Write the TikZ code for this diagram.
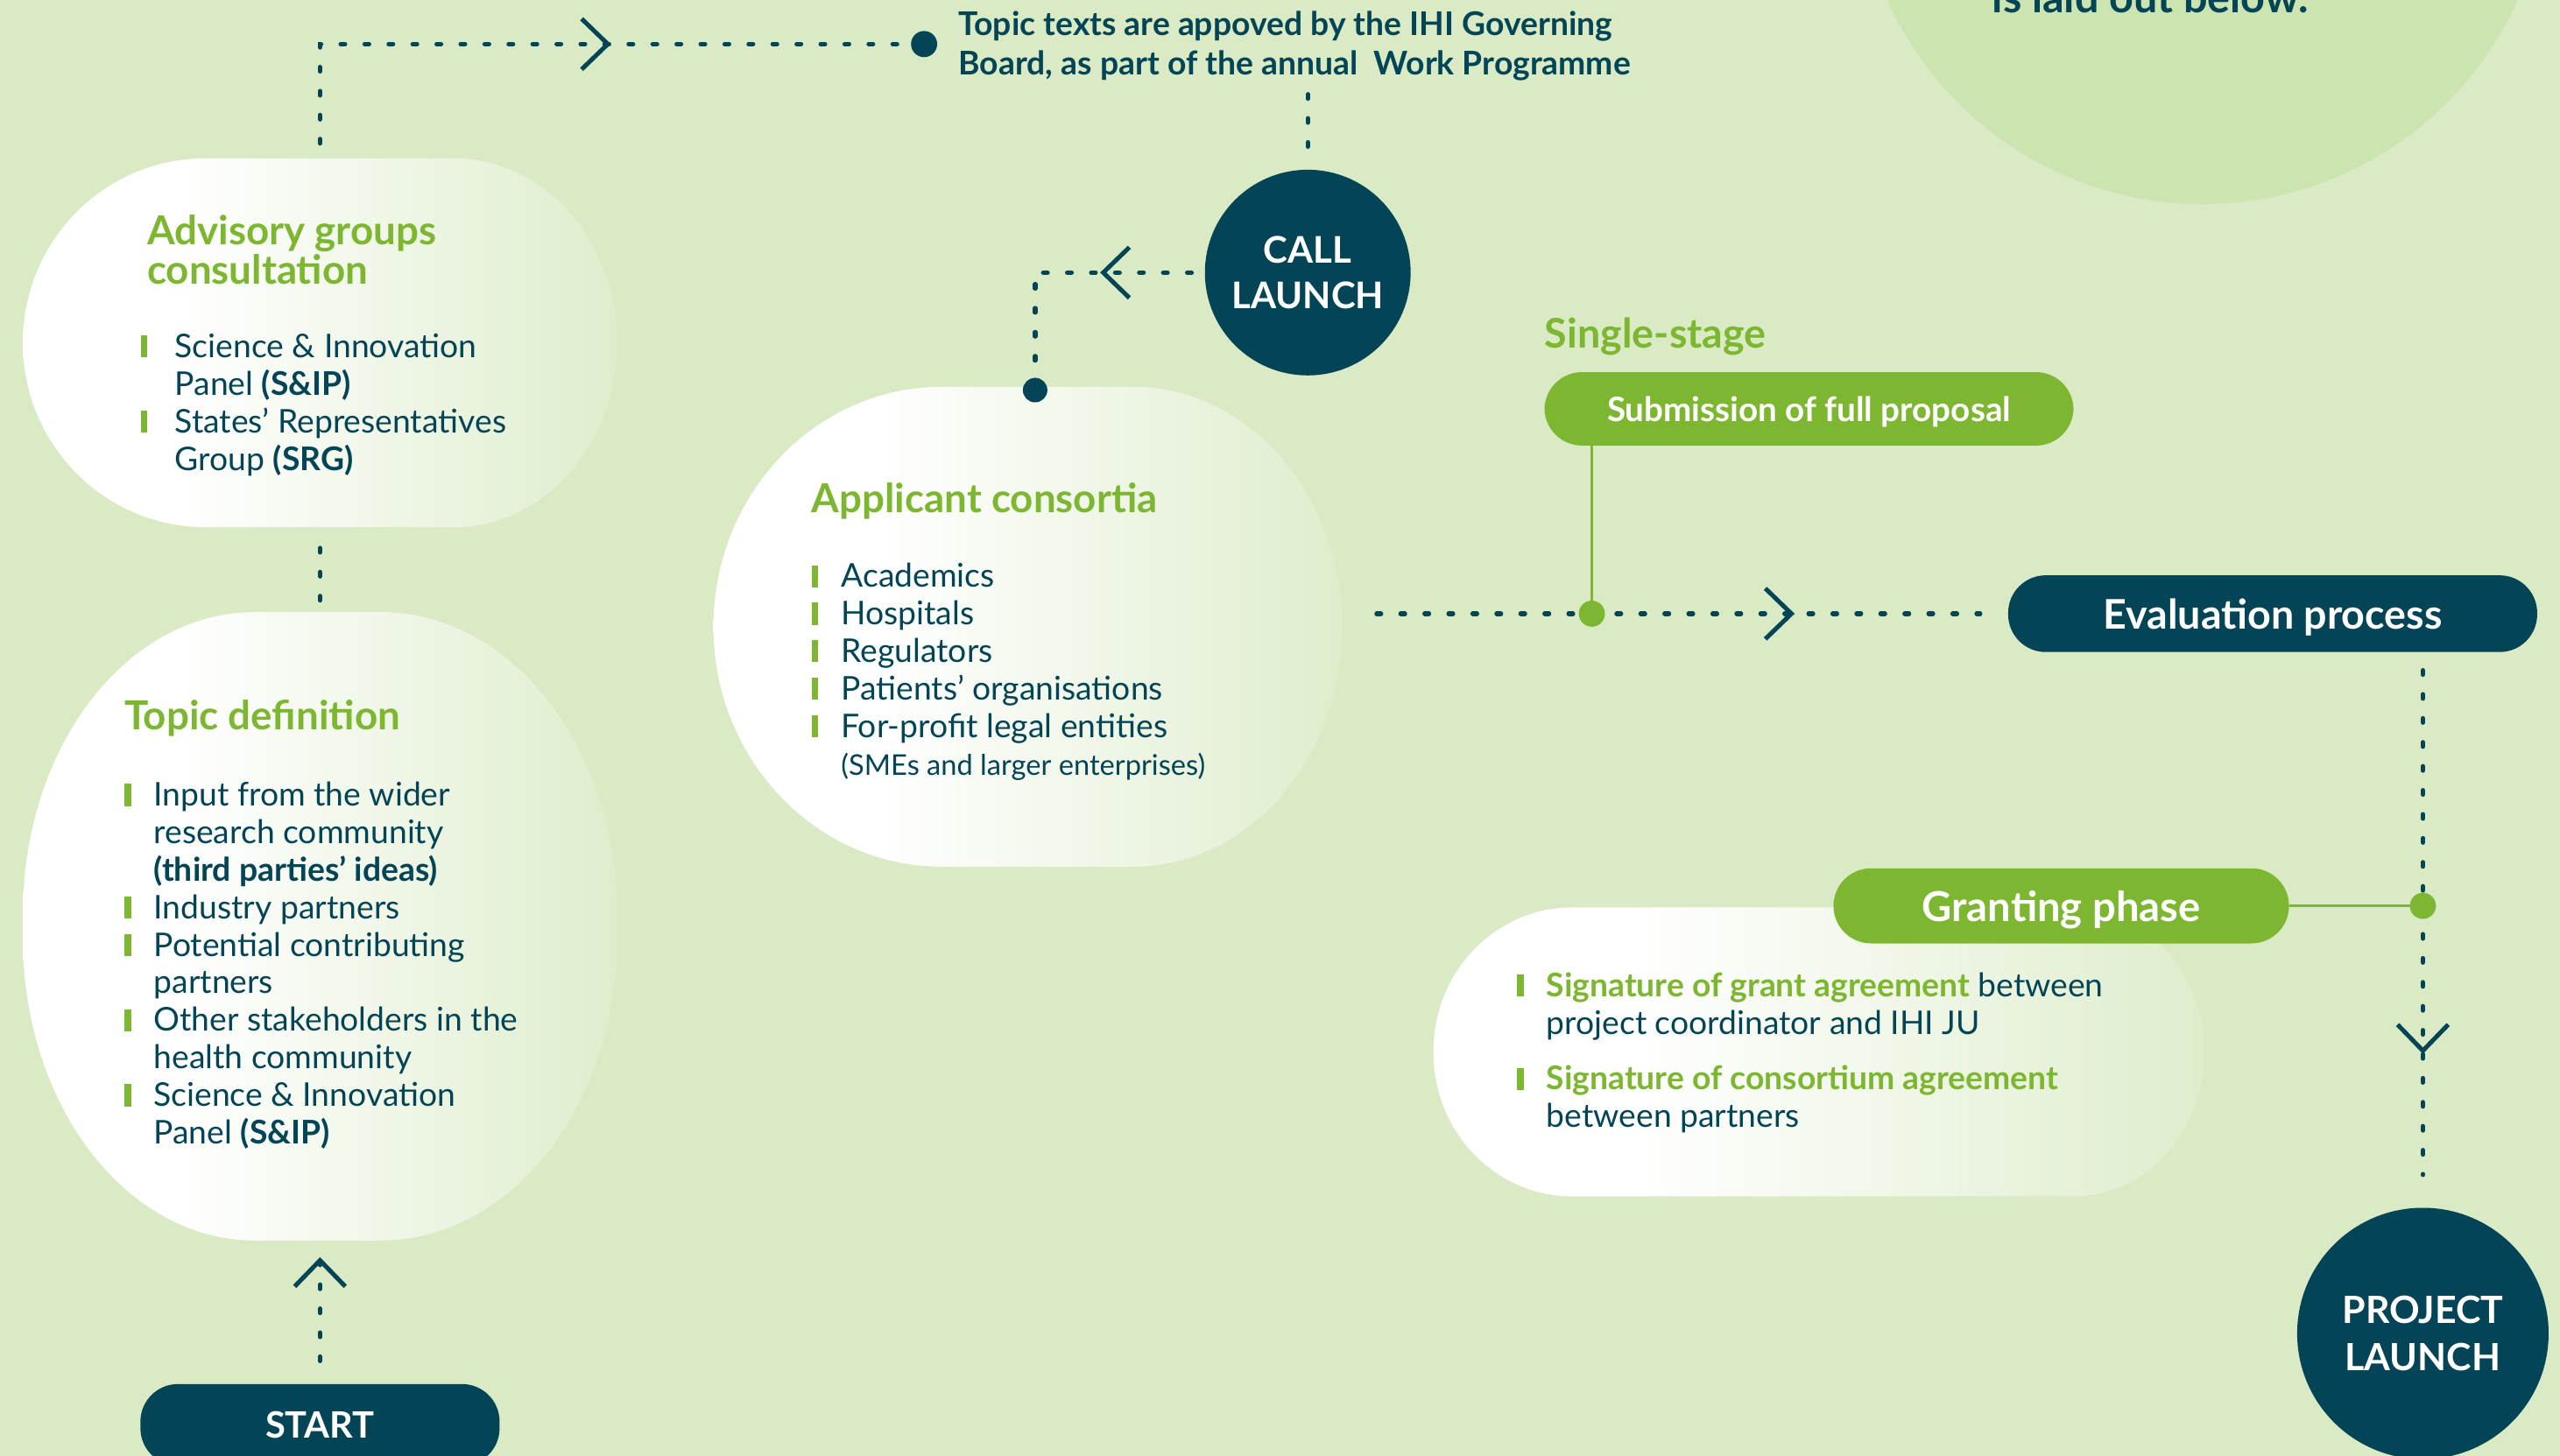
\documentclass[tikz,border=0pt]{standalone}
\usepackage{fontspec}
\setmainfont{Lato}
\usetikzlibrary{arrows.meta, decorations.markings, positioning}

\definecolor{navy}{HTML}{034556}
\definecolor{leaf}{HTML}{7DB731}
\definecolor{bgc}{HTML}{D9EAC4}
\definecolor{pale}{HTML}{CCE4B0}

\pgfdeclarehorizontalshading{blobfade}{100bp}{color(0bp)=(white); color(38bp)=(white); color(75bp)=(bgc!85!white); color(100bp)=(bgc!85!white)}

\newcommand{\itembar}[1][18pt]{\makebox[#1][l]{\textcolor{leaf}{\rule{4pt}{13.5pt}}}}
\newcommand{\itemgap}[1][18pt]{\makebox[#1]{}}

\begin{document}
\begin{tikzpicture}[x=1pt, y=1pt,
    blob/.style n args={3}{rectangle, inner sep=0pt, path picture={
        \shade[shading=blobfade]
          ([xshift=#1]path picture bounding box.north west)
          -- ([xshift=-#2]path picture bounding box.north east)
          arc[start angle=90, end angle=0, x radius=#2, y radius=#3]
          -- ([yshift=#3]path picture bounding box.south east)
          arc[start angle=0, end angle=-90, x radius=#2, y radius=#3]
          -- ([xshift=#1]path picture bounding box.south west)
          arc[start angle=270, end angle=180, x radius=#1, y radius=#3]
          -- ([yshift=-#3]path picture bounding box.north west)
          arc[start angle=180, end angle=90, x radius=#1, y radius=#3] -- cycle;}},
    ttl/.style={anchor=west, inner sep=0pt, align=left, text=leaf,
                font=\bfseries\fontsize{24.5}{22}\selectfont},
    lst/.style={anchor=west, inner sep=0pt, align=left, text=navy,
                font=\fontsize{20}{23}\selectfont},
    pill/.style={rectangle, rounded corners=23pt, inner sep=0pt, text=white, text depth=0pt,
                 font=\bfseries\fontsize{22.3}{22}\selectfont},
    hub/.style={circle, fill=navy, inner sep=0pt, align=center, text=white,
                font=\bfseries\fontsize{22.5}{28}\selectfont},
    knob/.style={circle, inner sep=0pt, minimum size=16pt},
    dotline/.style={draw=navy, line width=2.8pt, line cap=round,
                    dash pattern=on 2.6pt off 12.1pt},
    leafline/.style={draw=leaf, line width=2pt},
    chev/.style={postaction={decorate, decoration={markings,
        mark=at position #1 with {\arrow[line width=2.7pt]{Straight Barb[length=16pt, width=31pt]}}}}}
  ]
    \useasboundingbox (0,0) rectangle (1568,-892);
    \clip (0,0) rectangle (1568,-892);
    \fill[bgc] (0,0) rectangle (1568,-892);
    \fill[pale] (1349,86.5) circle[radius=211.5];
    \node[anchor=base, inner sep=0pt, text=navy, font=\bfseries\fontsize{26}{26}\selectfont]
      (laid) at (1317,-8) {is laid out below.};

    % blobs
    \node[blob={112pt}{100pt}{113pt}, minimum width=364pt, minimum height=226pt] (advis) at (196,-210) {};
    \node[blob={142pt}{145pt}{185pt}, minimum width=364pt, minimum height=385pt] (topic) at (196,-567.5) {};
    \node[blob={140pt}{128pt}{147pt}, minimum width=385pt, minimum height=294pt] (appl) at (629.5,-384) {};
    \node[blob={85pt}{80pt}{88pt}, minimum width=472pt, minimum height=177pt] (grant) at (1114,-644.5) {};

    \node[ttl] (advtitle) at (90,-153) {Advisory groups\\consultation};
    \node[lst] (advlist) at (86,-248) {\itembar[21pt]Science \& Innovation\\
      \itemgap[21pt]Panel \textbf{(S\&IP)}\\
      \itembar[21pt]States’ Representatives\\
      \itemgap[21pt]Group \textbf{(SRG)}};

    \node[ttl] (toptitle) at (76,-440) {Topic definition};
    \node[lst] (toplist) at (76,-591.5) {\itembar Input from the wider\\
      \itemgap research community\\
      \itemgap \textbf{(third parties’ ideas)}\\
      \itembar Industry partners\\
      \itembar Potential contributing\\
      \itemgap partners\\
      \itembar Other stakeholders in the\\
      \itemgap health community\\
      \itembar Science \& Innovation\\
      \itemgap Panel \textbf{(S\&IP)}};

    \node[ttl] (apptitle) at (497,-307) {Applicant consortia};
    \node[lst] (applist) at (497,-411.5) {\itembar Academics\\
      \itembar Hospitals\\
      \itembar Regulators\\
      \itembar Patients’ organisations\\
      \itembar For-profit legal entities\\
      \itemgap {\fontsize{17.5}{17.5}\selectfont (SMEs and larger enterprises)}};

    \node[lst] (grantlist) at (929,-645) {\itembar\textcolor{leaf}{\bfseries Signature of grant agreement} between\\
      \itemgap project coordinator and IHI JU\\[11pt]
      \itembar\textcolor{leaf}{\bfseries Signature of consortium agreement}\\
      \itemgap between partners};

    \node[anchor=west, inner sep=0pt, align=left, text=navy, font=\bfseries\fontsize{20}{24}\selectfont]
      (gov) at (587,-28) {Topic texts are appoved by the IHI Governing\\Board, as part of the annual\ \ Work Programme};
    \node[anchor=west, inner sep=0pt, text=leaf, font=\bfseries\fontsize{25}{25}\selectfont]
      (single) at (946,-206) {Single-stage};

    % pills and hubs
    \node[pill, fill=navy, minimum width=220pt, minimum height=50pt] (start) at (196,-873) {START};
    \node[pill, fill=leaf, minimum width=324pt, minimum height=45pt,
          font=\bfseries\fontsize{20.7}{20}\selectfont] (submit) at (1108,-250.5) {Submission of full proposal};
    \node[pill, fill=navy, minimum width=324pt, minimum height=47pt,
          font=\bfseries\fontsize{25}{25}\selectfont] (evalp) at (1392,-376) {Evaluation process};
    \node[pill, fill=leaf, minimum width=279pt, minimum height=46pt,
          font=\bfseries\fontsize{25.3}{25}\selectfont] (grantp) at (1262.5,-555) {Granting phase};
    \node[hub, minimum size=126pt] (call) at (801,-167) {CALL\\LAUNCH};
    \node[hub, minimum size=154pt, font=\bfseries\fontsize{23}{29}\selectfont] (proj) at (1484,-817) {PROJECT\\LAUNCH};

    \coordinate (govpt) at (566,-27);
    \coordinate (apppt) at (634,-239);
    \coordinate (subpt) at (975,-376);
    \coordinate (grantpt) at (1484,-555);

    % connectors
    \draw[dotline, chev=0.999] ([yshift=14pt]start.north) -- ([yshift=-10pt]topic.south);
    \draw[dotline] ([yshift=7pt]topic.north) -- ([yshift=-10pt]advis.south);
    \draw[dotline, chev=239pt] ([yshift=9pt]advis.north) |- (govpt);
    \draw[dotline, shorten <=14pt, shorten >=6pt] (call.north) -- (call.north |- gov.south);
    \draw[dotline, chev=56pt] ([xshift=-8pt]call.west) -| (apppt);
    \draw[dotline, chev=256pt] ([xshift=21pt]appl.east |- subpt) -- ([xshift=-17pt]evalp.west);
    \draw[leafline] (submit.south -| subpt) -- (subpt);
    \draw[dotline, chev=235pt] ([yshift=-11pt]evalp.south -| proj.north) -- ([yshift=20pt]proj.north);
    \draw[leafline] (grantp.east) -- (grantpt);

    \node[knob, fill=navy] (govdot) at (govpt) {};
    \node[knob, fill=navy, minimum size=15pt] (appdot) at (apppt) {};
    \node[knob, fill=leaf] (subdot) at (subpt) {};
    \node[knob, fill=leaf] (grantdot) at (grantpt) {};
\end{tikzpicture}
\end{document}
